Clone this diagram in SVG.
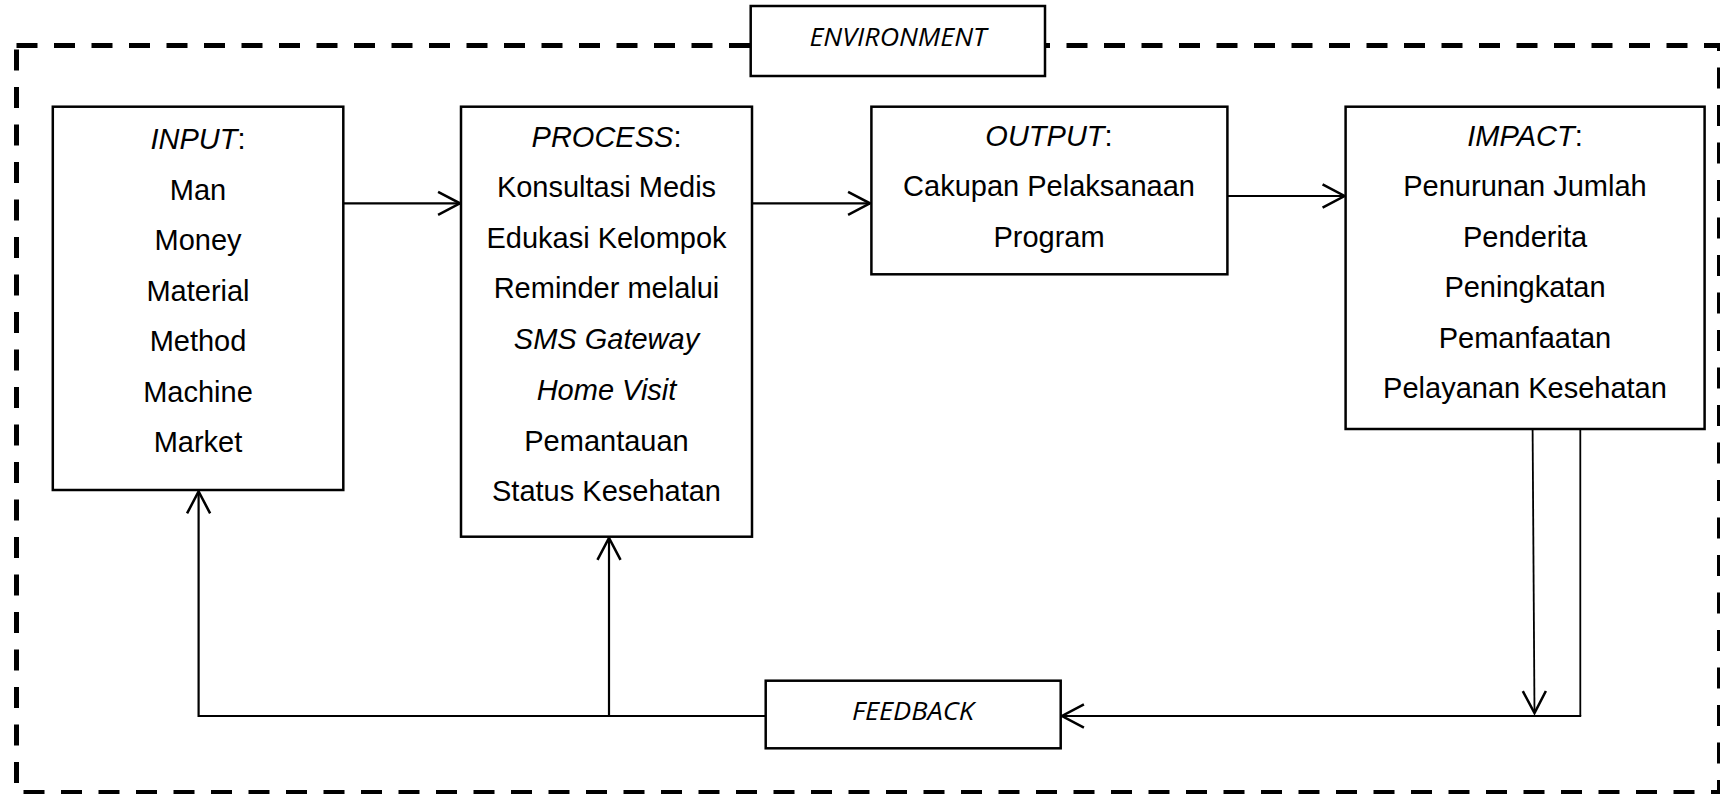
<svg xmlns="http://www.w3.org/2000/svg" width="1720" height="794" viewBox="0 0 1720 794">
<style>
.box{fill:#fff;stroke:#000;stroke-width:2.5}
.t{font-family:"Liberation Sans",Arial,sans-serif;font-size:29px;text-anchor:middle;fill:#000}
.i{font-style:italic}
.c{font-family:"Open Sans","Liberation Sans",sans-serif;font-style:italic;font-size:26px;text-anchor:middle;fill:#000}
.ln{fill:none;stroke:#000;stroke-width:2.2}
.thin{fill:none;stroke:#000;stroke-width:1.8}
</style>
<defs>
<marker id="ah" markerUnits="userSpaceOnUse" markerWidth="30" markerHeight="30" viewBox="-22 -13 26 26" refX="0" refY="0" orient="auto">
<path d="M-19,-10 L0,0 L-19,10" fill="none" stroke="#000" stroke-width="2.2"/>
</marker>
</defs>
<g id="environment-border">
<rect x="16.5" y="45.5" width="1703" height="747" fill="none" stroke="#000" stroke-width="5" stroke-dasharray="21 16.5"/>
</g>
<g id="connectors">
<line class="ln" x1="343" y1="203.3" x2="460" y2="203.3" marker-end="url(#ah)"/>
<line class="ln" x1="752" y1="203.3" x2="870" y2="203.3" marker-end="url(#ah)"/>
<line class="ln" x1="1227" y1="196" x2="1344.5" y2="196" marker-end="url(#ah)"/>
<line class="thin" x1="1532.6" y1="429" x2="1534.5" y2="713" marker-end="url(#ah)"/>
<line class="thin" x1="1580.3" y1="429" x2="1580.3" y2="716"/>
<line class="ln" x1="1581.2" y1="716" x2="1062" y2="716" marker-end="url(#ah)"/>
<polyline class="ln" points="766,716 198.6,716 198.6,491.5" marker-end="url(#ah)"/>
<line class="ln" x1="609" y1="716" x2="609" y2="538" marker-end="url(#ah)"/>
</g>
<g id="env">
<rect class="box" x="750.7" y="6" width="294.3" height="70"/>
<text class="c" x="898" y="46" textLength="177" lengthAdjust="spacingAndGlyphs">ENVIRONMENT</text>
</g>
<g id="input">
<rect class="box" x="52.8" y="106.7" width="290.5" height="383.3"/>
<text class="t" x="198" y="149"><tspan class="i">INPUT</tspan>:</text>
<text class="t" x="198" y="199.5">Man</text>
<text class="t" x="198" y="250">Money</text>
<text class="t" x="198" y="300.5">Material</text>
<text class="t" x="198" y="351">Method</text>
<text class="t" x="198" y="401.5">Machine</text>
<text class="t" x="198" y="452">Market</text>
</g>
<g id="process">
<rect class="box" x="461" y="106.7" width="291" height="430"/>
<text class="t" x="606.5" y="147.3"><tspan class="i">PROCESS</tspan>:</text>
<text class="t" x="606.5" y="197">Konsultasi Medis</text>
<text class="t" x="606.5" y="247.5">Edukasi Kelompok</text>
<text class="t" x="606.5" y="298.3">Reminder melalui</text>
<text class="t i" x="606.5" y="349">SMS Gateway</text>
<text class="t i" x="606.5" y="400">Home Visit</text>
<text class="t" x="606.5" y="450.5">Pemantauan</text>
<text class="t" x="606.5" y="501">Status Kesehatan</text>
</g>
<g id="output">
<rect class="box" x="871.4" y="106.7" width="356" height="167.6"/>
<text class="t" x="1049" y="145.5"><tspan class="i">OUTPUT</tspan>:</text>
<text class="t" x="1049" y="196">Cakupan Pelaksanaan</text>
<text class="t" x="1049" y="246.7">Program</text>
</g>
<g id="impact">
<rect class="box" x="1345.6" y="106.7" width="359" height="322.3"/>
<text class="t" x="1525" y="145.5"><tspan class="i">IMPACT</tspan>:</text>
<text class="t" x="1525" y="196">Penurunan Jumlah</text>
<text class="t" x="1525" y="246.7">Penderita</text>
<text class="t" x="1525" y="297">Peningkatan</text>
<text class="t" x="1525" y="347.7">Pemanfaatan</text>
<text class="t" x="1525" y="398.3">Pelayanan Kesehatan</text>
</g>
<g id="feedback">
<rect class="box" x="765.7" y="680.7" width="295" height="67.6"/>
<text class="c" x="913" y="720" textLength="122" lengthAdjust="spacingAndGlyphs">FEEDBACK</text>
</g>
</svg>
